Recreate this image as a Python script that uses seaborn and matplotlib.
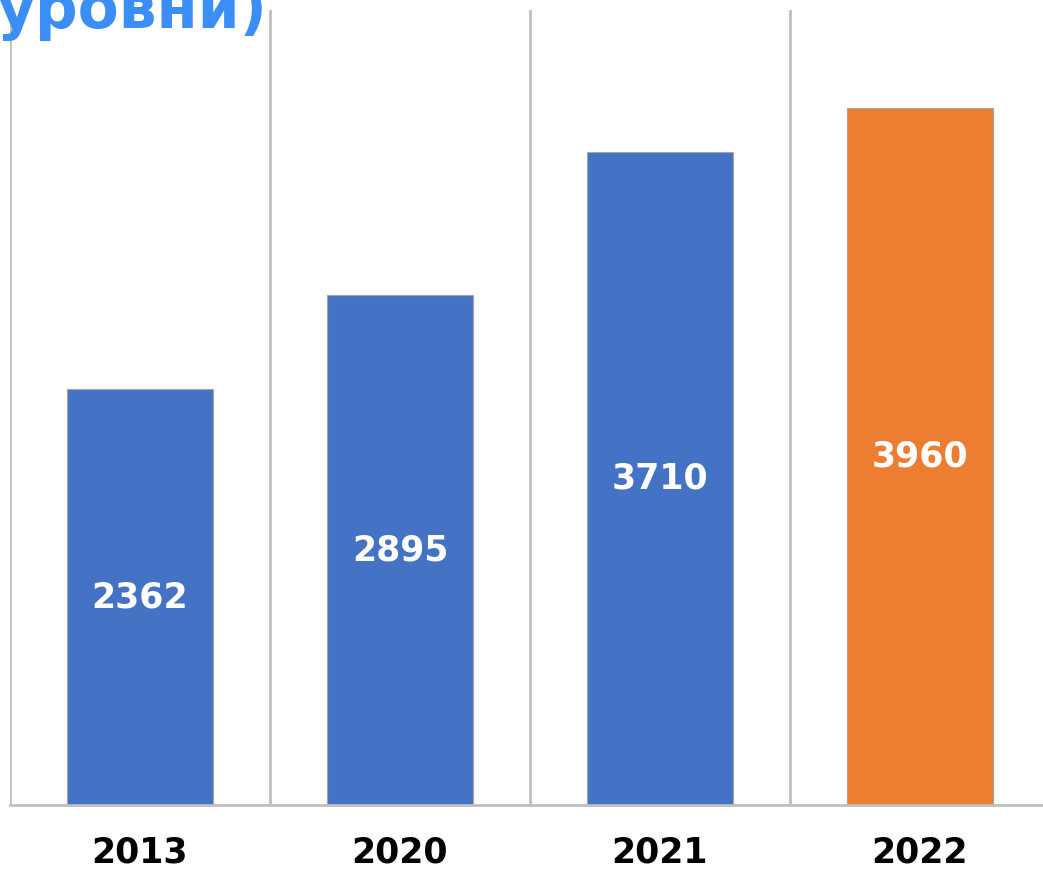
import matplotlib.pyplot as plt
import seaborn as sns
from pandas import DataFrame

years=["2013","2020","2021","2022"]
values=[2362,2895,3710,3960]
colors=["#4472C4","#4472C4","#4472C4","#ED7D31"]
title_tail="уровни)"

sns.set_style("white")
plt.rcParams['font.family']=['DejaVu Sans']

W,H=1043,871
fig=plt.figure(figsize=(W/100,H/100),dpi=100)
# axes runs a bit past the right edge, like the cropped original
ax=fig.add_axes([10/W,(H-805)/H,1040/W,795/H])

df=DataFrame({"year":years,"value":values})
sns.barplot(data=df,x="year",y="value",hue="year",palette=colors,legend=False,
            width=0.558,saturation=1,edgecolor="#a6a6a6",linewidth=0.8,ax=ax)

ax.set_xlim(-0.5,len(years)-0.5)
ax.set_ylim(0,4517)
ax.set_xlabel("")
ax.set_ylabel("")
ax.set_yticks([])
ax.tick_params(axis='x',length=0,pad=22)
for lbl in ax.get_xticklabels():
    lbl.set_fontsize(25)
    lbl.set_fontweight("bold")
    lbl.set_color("black")

for s in ["top","right","left"]:
    ax.spines[s].set_visible(False)
ax.spines["bottom"].set_color("#bfbfbf")
ax.spines["bottom"].set_linewidth(2)

# separators between categories
for i in range(len(years)+1):
    ax.axvline(i-0.5,color="#bfbfbf",lw=2,zorder=0)

for i,v in enumerate(values):
    ax.text(i,v/2,str(v),ha="center",va="center",color="white",fontsize=25,fontweight="bold")

fig.text(-4/W,1-28/H,title_tail,color="#3A8EF6",fontsize=43,fontweight="bold",ha="left",va="baseline")

fig.savefig("out.png",dpi=100)
